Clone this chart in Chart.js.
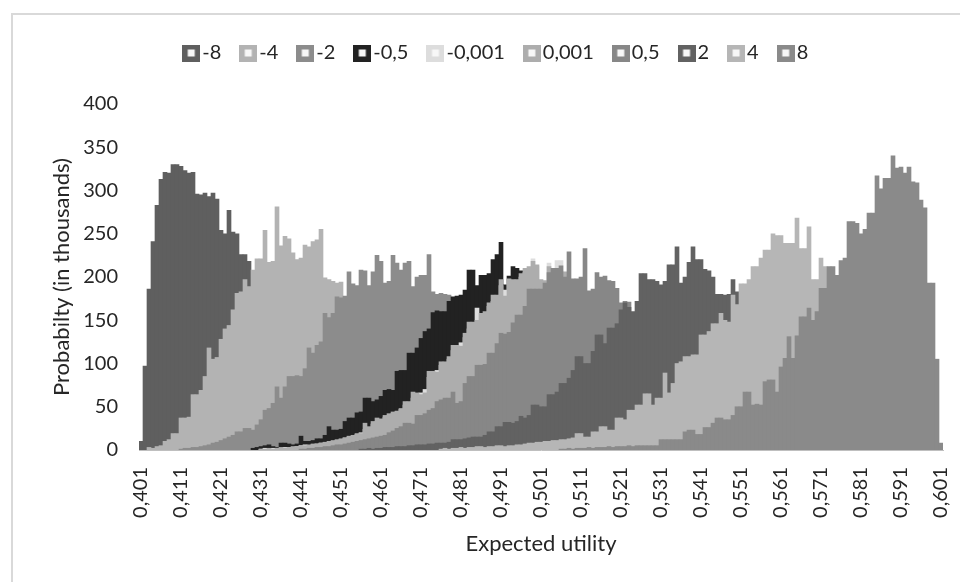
<!DOCTYPE html>
<html>
<head>
<meta charset="utf-8">
<script src="https://cdn.jsdelivr.net/npm/chart.js@4.4.1/dist/chart.umd.min.js"></script>
<style>
html,body{margin:0;padding:0;background:#fff;}
#wrap{position:relative;width:960px;height:582px;overflow:hidden;background:#fff;}
#frame{position:absolute;left:11px;top:13px;width:1000px;height:700px;border:2px solid #d9d9d9;box-sizing:border-box;}
canvas{position:absolute;left:0;top:0;}
</style>
</head>
<body>
<div id="wrap"><div id="frame"></div><canvas id="c" width="960" height="582"></canvas></div>
<script>
// ---- categories (bins of expected utility) ----
const binStart = 0.401;
const binStep = 0.001;
const binCount = 201;
const categories = [];
for (let i = 0; i < binCount; i++) categories.push((binStart + i * binStep).toFixed(3).replace('.', ','));
const tickEvery = 10; // a label on every 10th bin: 0,401 0,411 ... 0,601

// ---- series names, colours and first bin index ----
const seriesNames  = ['-8', '-4', '-2', '-0,5', '-0,001', '0,001', '0,5', '2', '4', '8'];
const seriesColors = ['#5f5f5f', '#b3b3b3', '#8c8c8c', '#222222', '#dddddd', '#adadad', '#878787', '#626262', '#b6b6b6', '#8a8a8a'];
const seriesStart  = [0, 2, 10, 28, 30, 30, 40, 55, 75, 105];

// ---- values (thousands), one array per series, starting at seriesStart ----
const valsM8 = [10,97,186,241,283,313,321,320,330,330,
  328,323,320,321,296,295,297,293,297,290,
  254,250,277,252,250,226,226,218,200,180,
  160,140,122,105,90,76,63,52,42,34,
  27,21,16,12,9,6,4,3,2,1];
const valsM4 = [3,2,4,5,10,12,19,19,37,37,
  38,64,64,69,85,118,105,107,128,140,
  144,162,181,183,197,189,208,221,221,254,
  217,218,281,236,247,244,228,220,222,237,
  235,241,243,255,199,197,195,193,194,170,
  160,150,140,128,118,105,95,82,70,60,
  50,42,34,27,21,16,12,9,6,4,
  3,2,1];
const valsM2 = [1,2,2,3,3,4,5,6,8,9,
  11,13,15,17,21,21,25,25,23,29,
  35,46,48,54,73,60,73,85,85,86,
  85,94,118,112,121,125,158,153,158,177,
  176,178,206,192,190,208,207,190,206,225,
  218,193,195,225,216,208,216,218,189,200,
  202,202,226,183,180,181,180,179,160,150,
  140,128,118,105,95,85,75,66,57,48,
  40,33,27,22,17,13,10,7,5,3,
  2,1];
const valsM05 = [2,3,4,5,6,4,3,8,8,7,
  6,7,16,10,10,11,13,13,17,27,
  23,23,24,33,37,37,43,44,60,60,
  56,58,62,69,70,69,91,92,92,112,
  112,118,129,137,140,159,161,160,160,172,
  177,178,179,185,208,208,190,202,202,204,
  220,226,240,191,201,212,210,207,180,160,
  140,120,100,84,70,57,46,36,28,21,
  15,11,8,5,3,2,1];
const valsM0001 = [1,2,1,2,2,2,3,3,3,4,
  5,6,5,6,7,8,8,9,10,11,
  12,14,15,16,18,20,24,26,30,33,
  35,38,40,42,44,47,52,55,60,63,
  66,70,84,88,92,98,100,105,115,118,
  124,130,140,146,164,155,158,166,172,176,
  190,185,192,194,196,200,205,208,221,212,
  195,192,216,202,219,219,200,188,180,170,
  162,152,144,134,122,112,100,90,80,68,
  58,49,40,33,26,20,15,11,8,6,
  4,3,2,1];
const valsP0001 = [1,1,2,1,2,3,2,3,4,4,
  5,5,6,7,7,8,9,10,11,12,
  13,14,16,17,19,19,31,27,33,37,
  36,40,42,44,45,48,56,56,67,66,
  64,66,91,91,90,102,102,108,121,121,
  120,135,148,148,150,158,160,170,179,179,
  197,178,198,197,197,204,210,212,218,214,
  197,196,212,204,208,206,206,190,185,172,
  165,155,148,138,126,115,104,92,82,70,
  60,50,42,34,27,21,16,12,9,6,
  4,3,2,1];
const valsP05 = [1,1,2,2,3,3,4,4,5,6,
  6,7,8,9,10,11,12,13,14,15,
  16,17,20,22,25,27,31,31,30,40,
  40,42,46,48,56,58,60,60,67,54,
  56,77,85,85,98,98,99,112,112,123,
  135,134,136,147,156,156,166,186,186,186,
  186,193,205,210,210,213,200,229,198,198,
  200,233,184,186,205,200,201,196,195,187,
  170,172,171,158,145,132,120,108,96,85,
  74,64,55,47,40,33,27,22,17,13,
  10,7,5,3,2,1];
const valsP2 = [1,1,2,1,2,
  2,3,3,3,4,4,4,5,5,6,
  6,6,7,7,8,8,8,9,12,12,
  12,13,14,15,15,15,17,21,21,27,
  27,32,32,31,33,39,37,40,52,52,
  50,50,64,64,67,77,77,83,92,108,
  108,100,100,114,133,133,123,141,141,146,
  162,170,165,160,172,204,204,197,197,195,
  191,195,214,214,235,193,200,217,235,220,
  220,209,207,200,180,180,179,180,197,183,
  165,150,138,125,112,100,88,76,65,55,
  46,38,31,25,20,15,11,8,6,4,
  3,2,1];
const valsP4 = [1,2,1,2,2,
  3,2,3,3,4,4,3,4,4,5,
  5,4,5,5,6,6,7,8,8,9,
  9,10,10,11,11,12,12,13,14,19,
  19,15,15,21,21,27,27,23,23,37,
  37,35,46,46,52,52,65,65,52,60,
  60,89,66,77,100,102,108,108,110,110,
  133,133,137,146,146,158,150,148,179,168,
  192,192,197,212,212,222,231,231,250,248,
  248,239,239,239,268,233,233,258,197,197,
  222,212,200,190,178,165,150,135,120,105,
  92,78,65,52,42,32,24,17,11,7,
  4,2,1];
const valsP8 = [1,1,2,1,2,
  2,2,3,2,3,3,3,4,3,4,
  4,4,5,4,5,5,5,5,5,5,
  12,12,12,12,12,12,21,23,23,18,
  18,26,26,31,37,37,35,35,40,50,
  50,67,67,52,53,52,79,81,81,67,
  96,106,131,106,132,154,154,164,150,160,
  187,187,212,212,202,219,222,264,264,262,
  250,255,274,274,317,302,314,314,340,326,
  327,320,327,310,309,289,280,193,193,105,
  8];
const seriesValues = [valsM8, valsM4, valsM2, valsM05, valsM0001, valsP0001, valsP05, valsP2, valsP4, valsP8];

// ---- axis ----
const yMin = 0, yMax = 400, yStep = 50;
const yTitle = 'Probabilty (in thousands)';
const xTitle = 'Expected utility';

const textColor = '#262626';
Chart.defaults.font.family = 'Lato';
Chart.defaults.font.size = 20;
Chart.defaults.color = textColor;

function fullSeries(k) {
  const arr = new Array(binCount).fill(null);
  seriesValues[k].forEach((v, j) => { arr[seriesStart[k] + j] = v; });
  return arr;
}

function makeMarker(color) {
  const c = document.createElement('canvas');
  c.width = 18; c.height = 17;
  const g = c.getContext('2d');
  g.fillStyle = color; g.fillRect(0, 0, 18, 17);
  g.fillStyle = '#f7f7f7'; g.fillRect(5.5, 5, 7, 7);
  return c;
}
const markers = seriesColors.map(makeMarker);

const datasets = seriesNames.map((name, k) => ({
  label: name,
  data: fullSeries(k),
  backgroundColor: seriesColors[k],
  borderWidth: 0,
  grouped: false,
  categoryPercentage: 1,
  barPercentage: 1,
  order: seriesNames.length - 1 - k
}));

new Chart(document.getElementById('c'), {
  type: 'bar',
  data: { labels: categories, datasets },
  options: {
    responsive: false,
    animation: false,
    events: [],
    layout: { padding: { top: 17, left: 55.5, right: 17, bottom: 10 } },
    plugins: {
      tooltip: { enabled: false },
      title: { display: true, text: '', weight: 100, font: { size: 1, lineHeight: 1 }, padding: { top: 30, bottom: 0 } },
      legend: {
        position: 'top',
        labels: {
          usePointStyle: true,
          pointStyleWidth: 2,
          padding: 26,
          color: textColor,
          font: { size: 20 },
          generateLabels: (chart) => chart.data.datasets.map((ds, i) => ({
            text: ds.label,
            fillStyle: ds.backgroundColor,
            strokeStyle: ds.backgroundColor,
            lineWidth: 0,
            pointStyle: markers[i],
            hidden: false,
            datasetIndex: i,
            fontColor: textColor
          }))
        }
      }
    },
    scales: {
      x: {
        type: 'category',
        offset: true,
        grid: { display: false, drawTicks: false },
        border: { display: true, color: '#bfbfbf', width: 1 },
        ticks: {
          autoSkip: false,
          minRotation: 90,
          maxRotation: 90,
          padding: 17,
          color: textColor,
          font: { size: 20 },
          callback: (v, i) => (i % tickEvery === 0 ? categories[i] : null)
        },
        title: { display: true, text: xTitle, color: textColor, font: { size: 22 }, padding: { top: 0, bottom: 14.8 } },
        afterFit: (s) => { s.height = 122; s.paddingLeft = 0; s.paddingRight = 0; }
      },
      y: {
        min: yMin, max: yMax,
        grid: { display: false, drawTicks: false },
        border: { display: false },
        ticks: { stepSize: yStep, padding: 21, color: textColor, font: { size: 20 } },
        title: { display: true, text: yTitle, color: textColor, font: { size: 22 }, padding: { top: -6.7, bottom: 0 } },
        afterFit: (s) => { s.width = 83.5; }
      }
    }
  }
});
</script>
</body>
</html>
